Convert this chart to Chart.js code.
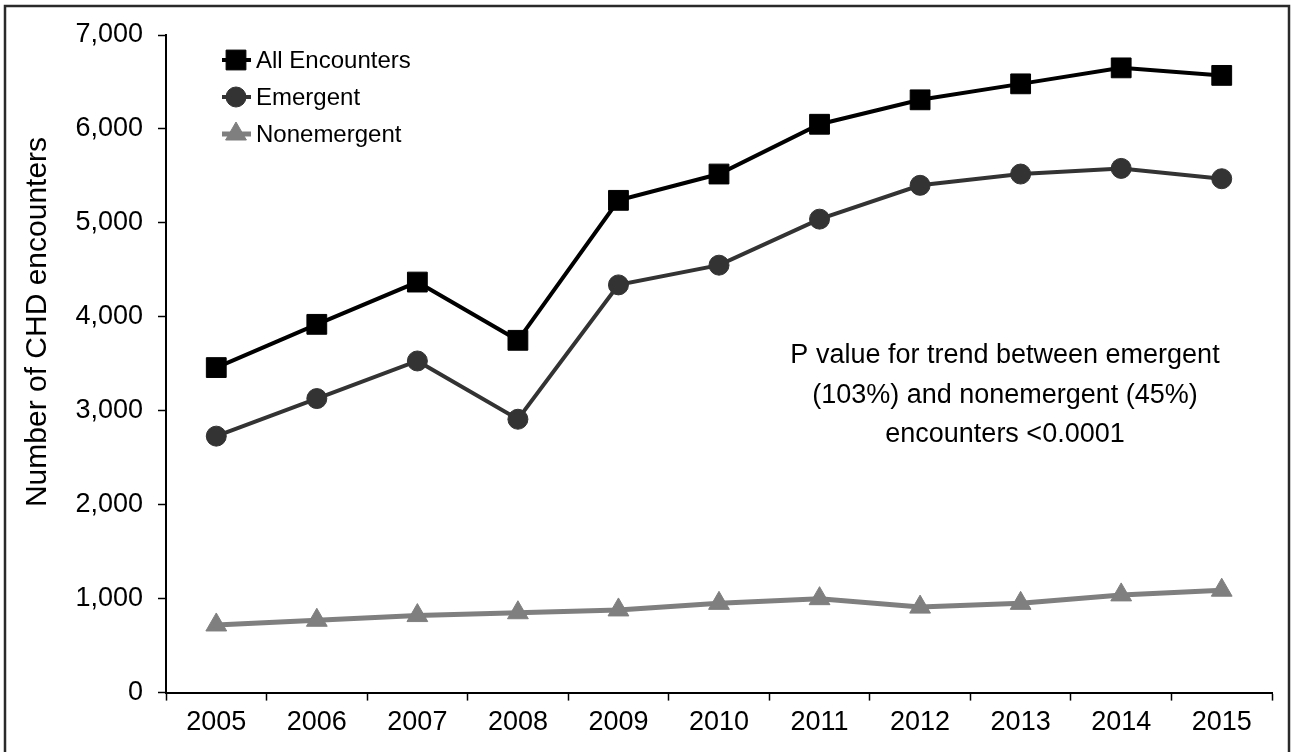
<!DOCTYPE html>
<html>
<head>
<meta charset="utf-8">
<script src="https://cdn.jsdelivr.net/npm/chart.js@4.4.1/dist/chart.umd.min.js"></script>
<style>
  html, body { margin: 0; padding: 0; background: #fff; }
  canvas { display: block; }
</style>
</head>
<body>
<canvas id="chart" width="1292" height="752"></canvas>
<script>
  // Data
  const years = ['2005', '2006', '2007', '2008', '2009', '2010', '2011', '2012', '2013', '2014', '2015'];
  const allEncounters = [3460, 3920, 4370, 3750, 5240, 5520, 6050, 6310, 6480, 6650, 6570];
  const emergent = [2730, 3130, 3530, 2910, 4340, 4550, 5040, 5400, 5520, 5580, 5470];
  const nonemergent = [720, 770, 820, 850, 880, 950, 1000, 910, 950, 1040, 1090];
  const noteLines = [
    'P value for trend between emergent',
    '(103%) and nonemergent (45%)',
    'encounters <0.0001'
  ];
  const yTitle = 'Number of CHD encounters';

  const FONT = 'Arial, "Liberation Sans", sans-serif';

  // Draw a point marker like the chart does
  function drawMarker(ctx, style, x, y, r, color) {
    ctx.save();
    ctx.fillStyle = color;
    ctx.strokeStyle = color;
    ctx.lineWidth = 1;
    ctx.beginPath();
    if (style === 'rect') {
      const h = r * Math.SQRT1_2;
      ctx.rect(x - h, y - h, h * 2, h * 2);
    } else if (style === 'triangle') {
      ctx.moveTo(x, y - r);
      ctx.lineTo(x + r * Math.sin(Math.PI * 2 / 3), y - r * Math.cos(Math.PI * 2 / 3));
      ctx.lineTo(x - r * Math.sin(Math.PI * 2 / 3), y - r * Math.cos(Math.PI * 2 / 3));
      ctx.closePath();
    } else {
      ctx.arc(x, y, r, 0, Math.PI * 2);
    }
    ctx.fill();
    ctx.stroke();
    ctx.restore();
  }

  const framePlugin = {
    id: 'frame',
    beforeDraw(chart) {
      const ctx = chart.ctx;
      ctx.save();
      ctx.strokeStyle = '#2a2a2a';
      ctx.lineWidth = 2.5;
      ctx.strokeRect(5, 6, 1284, 780);
      ctx.restore();
    }
  };

  const legendPlugin = {
    id: 'insideLegend',
    afterDraw(chart) {
      const ctx = chart.ctx;
      const rows = [60, 97, 134];
      chart.data.datasets.forEach((ds, i) => {
        const y = rows[i];
        ctx.save();
        ctx.strokeStyle = ds.borderColor;
        ctx.lineWidth = ds.borderWidth;
        ctx.beginPath();
        ctx.moveTo(222, y);
        ctx.lineTo(251, y);
        ctx.stroke();
        ctx.restore();
        drawMarker(ctx, ds.pointStyle, 236, y, ds.pointRadius, ds.pointBackgroundColor);
        ctx.save();
        ctx.fillStyle = '#000';
        ctx.font = '24px ' + FONT;
        ctx.textBaseline = 'middle';
        ctx.textAlign = 'left';
        ctx.fillText(ds.label, 256, y + 1);
        ctx.restore();
      });
    }
  };

  const textPlugin = {
    id: 'texts',
    afterDraw(chart) {
      const ctx = chart.ctx;
      ctx.save();
      ctx.fillStyle = '#000';
      ctx.font = '27px ' + FONT;
      ctx.textAlign = 'center';
      ctx.textBaseline = 'middle';
      noteLines.forEach((line, i) => {
        ctx.fillText(line, 1005, 356 + i * 39.5);
      });
      // y axis title, placed as in the figure (slightly above the axis middle)
      ctx.translate(38, 322);
      ctx.rotate(-Math.PI / 2);
      ctx.font = '30px ' + FONT;
      ctx.fillText(yTitle, 0, 0);
      ctx.restore();
    }
  };

  new Chart(document.getElementById('chart'), {
    type: 'line',
    data: {
      labels: years,
      datasets: [
        {
          label: 'All Encounters',
          data: allEncounters,
          borderColor: '#000000',
          backgroundColor: '#000000',
          pointBackgroundColor: '#000000',
          pointBorderColor: '#000000',
          borderWidth: 4,
          pointStyle: 'rect',
          pointRadius: 14,
          pointBorderWidth: 1,
          tension: 0
        },
        {
          label: 'Emergent',
          data: emergent,
          borderColor: '#333333',
          backgroundColor: '#333333',
          pointBackgroundColor: '#333333',
          pointBorderColor: '#333333',
          borderWidth: 4,
          pointStyle: 'circle',
          pointRadius: 10,
          pointBorderWidth: 1,
          tension: 0
        },
        {
          label: 'Nonemergent',
          data: nonemergent,
          borderColor: '#7f7f7f',
          backgroundColor: '#7f7f7f',
          pointBackgroundColor: '#7f7f7f',
          pointBorderColor: '#7f7f7f',
          borderWidth: 5,
          pointStyle: 'triangle',
          pointRadius: 12,
          pointBorderWidth: 1,
          tension: 0
        }
      ]
    },
    options: {
      responsive: false,
      animation: false,
      layout: {
        padding: { left: 0, top: 35, right: 20, bottom: 7 }
      },
      plugins: {
        legend: { display: false },
        tooltip: { enabled: false }
      },
      scales: {
        x: {
          offset: true,
          grid: {
            display: true,
            offset: true,
            drawOnChartArea: false,
            drawTicks: true,
            tickLength: 8,
            tickColor: '#000',
            tickWidth: 1.5
          },
          border: { display: true, color: '#000', width: 2 },
          ticks: {
            color: '#000',
            padding: 6,
            maxRotation: 0,
            font: { family: FONT, size: 27 }
          }
        },
        y: {
          min: 0,
          max: 7000,
          afterFit: (scale) => { scale.width = 166; },
          grid: {
            display: true,
            drawOnChartArea: false,
            drawTicks: true,
            tickLength: 8,
            tickColor: '#000',
            tickWidth: 1.5
          },
          border: { display: true, color: '#000', width: 2 },
          ticks: {
            stepSize: 1000,
            color: '#000',
            padding: 15,
            font: { family: FONT, size: 27 },
            callback: (v) => v.toLocaleString('en-US')
          }
        }
      }
    },
    plugins: [framePlugin, legendPlugin, textPlugin]
  });
</script>
</body>
</html>
